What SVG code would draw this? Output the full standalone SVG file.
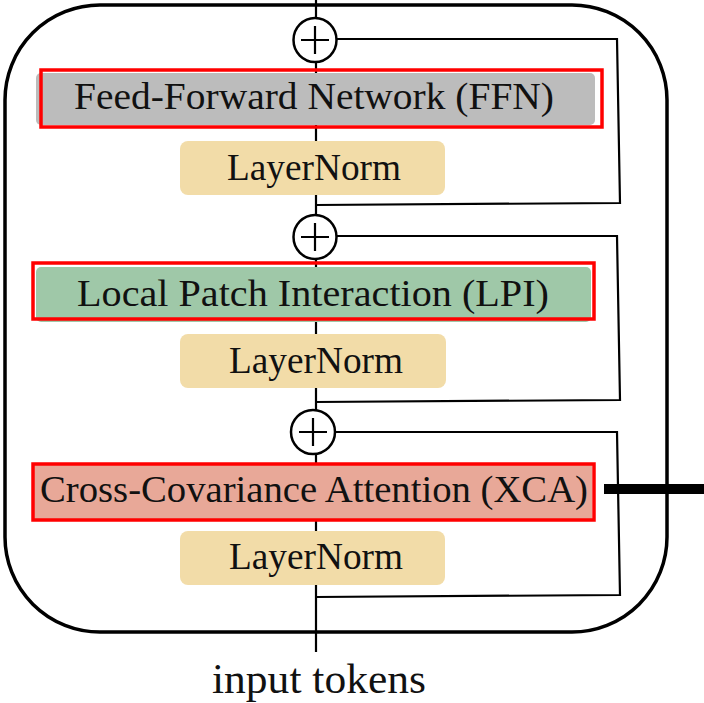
<svg xmlns="http://www.w3.org/2000/svg" width="704" height="703" viewBox="0 0 704 703">
<style>
.ln{fill:none;stroke:#000;stroke-width:2.2}
.sum{fill:#fff;stroke:#000;stroke-width:2.5}
.ln-norm{fill:#f2dca8}
.hl{fill:none;stroke:#ff0000;stroke-width:3.5}
.t{font-family:"Liberation Serif","Times New Roman",serif;font-size:38px;fill:#111;text-anchor:middle}
</style>
<rect width="704" height="703" fill="#fff"/>
<g id="block">
<rect x="5" y="5" width="662" height="627" rx="95" ry="95" fill="none" stroke="#000" stroke-width="3.5"/>
</g>
<g id="connectors">
<line class="ln" x1="316" y1="0" x2="316" y2="652"/>
<polyline class="ln" points="337,39 617,39 620,203 316,205"/>
<polyline class="ln" points="337,236 617,236 620,400 316,402"/>
<polyline class="ln" points="335,432 617,432 620,595 316,597"/>
<line x1="604" y1="489" x2="704" y2="489" stroke="#000" stroke-width="10"/>
</g>
<g id="add1">
<ellipse class="sum" cx="315" cy="40" rx="21.5" ry="22"/>
<path class="ln" d="M301,40H329M315,26V54"/>
</g>
<g id="add2">
<ellipse class="sum" cx="315" cy="237" rx="21.5" ry="22"/>
<path class="ln" d="M301,237H329M315,223V251"/>
</g>
<g id="add3">
<ellipse class="sum" cx="313" cy="432" rx="22" ry="22"/>
<path class="ln" d="M299,432H327M313,418V446"/>
</g>
<g id="ffn">
<rect x="36" y="73" width="559" height="52" rx="5" fill="#bcbcbc"/>
<rect class="hl" x="41" y="70" width="561" height="57"/>
<text class="t" x="314" y="109" textLength="480" lengthAdjust="spacingAndGlyphs">Feed-Forward Network (FFN)</text>
</g>
<g id="norm1">
<rect class="ln-norm" x="180" y="141" width="265" height="54" rx="8"/>
<text class="t" x="314" y="180" textLength="174" lengthAdjust="spacingAndGlyphs">LayerNorm</text>
</g>
<g id="lpi">
<rect x="36" y="267" width="555" height="55" rx="5" fill="#9fc8a8"/>
<rect class="hl" x="33" y="263" width="561" height="56"/>
<text class="t" x="313" y="306" textLength="472" lengthAdjust="spacingAndGlyphs">Local Patch Interaction (LPI)</text>
</g>
<g id="norm2">
<rect class="ln-norm" x="180" y="334" width="266" height="54" rx="8"/>
<text class="t" x="316" y="373" textLength="174" lengthAdjust="spacingAndGlyphs">LayerNorm</text>
</g>
<g id="xca">
<rect x="34" y="465" width="558" height="55" fill="#e8a898"/>
<rect class="hl" x="33" y="464" width="561" height="56"/>
<text class="t" x="314" y="502" textLength="548" lengthAdjust="spacingAndGlyphs">Cross-Covariance Attention (XCA)</text>
</g>
<g id="norm3">
<rect class="ln-norm" x="180" y="531" width="265" height="54" rx="8"/>
<text class="t" x="316" y="569" textLength="174" lengthAdjust="spacingAndGlyphs">LayerNorm</text>
</g>
<g id="input">
<text class="t" x="319" y="693" style="font-size:43px" textLength="214" lengthAdjust="spacingAndGlyphs">input tokens</text>
</g>
</svg>
